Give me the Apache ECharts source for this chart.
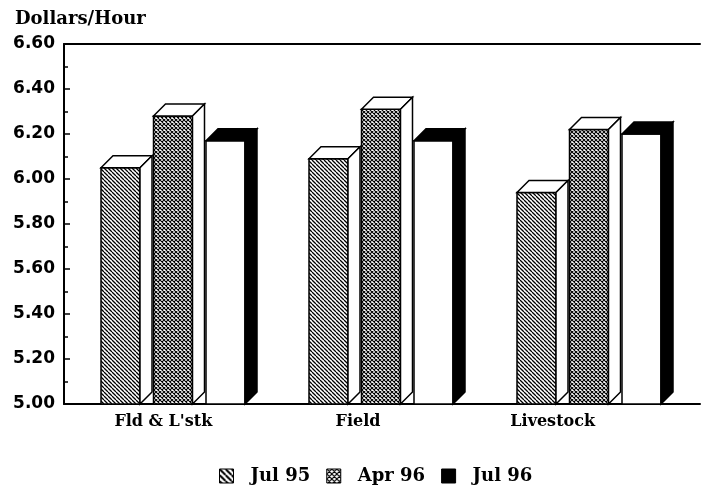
<!DOCTYPE html>
<html>
<head>
<meta charset="utf-8">
<script src="https://cdn.jsdelivr.net/npm/echarts@6/dist/echarts.min.js"></script>
<style>
  html, body { margin: 0; padding: 0; background: #fff; }
  #chart { width: 703px; height: 496px; }
</style>
</head>
<body>
<div id="chart"></div>
<script>
  var categories = ["Fld & L'stk", 'Field', 'Livestock'];
  var seriesNames = ['Jul 95', 'Apr 96', 'Jul 96'];
  var jul95 = [6.05, 6.09, 5.94];
  var apr96 = [6.28, 6.31, 6.22];
  var jul96 = [6.17, 6.17, 6.20];
  var yMin = 5.0, yMax = 6.6, yStep = 0.2;

  // hatch fills, drawn on small tiles
  function hatch(size, thick, back, fwd) {
    var c = document.createElement('canvas');
    c.width = c.height = size;
    var g = c.getContext('2d');
    g.fillStyle = '#fff';
    g.fillRect(0, 0, size, size);
    g.strokeStyle = '#000';
    g.lineWidth = thick;
    g.beginPath();
    for (var k = -1; k <= 1; k++) {
      if (back) { g.moveTo(0, k * size); g.lineTo(size, size + k * size); }
      if (fwd) { g.moveTo(0, (k + 1) * size); g.lineTo(size, k * size); }
    }
    g.stroke();
    return { image: c, repeat: 'repeat' };
  }

  var fills = [hatch(4, 1.3, true, false), hatch(4, 1.1, true, true), '#fff'];
  var legendFills = [hatch(6, 2, true, false), hatch(5, 1.2, true, true), '#000'];
  var topFills = ['#fff', '#fff', '#000'];
  var sideFills = ['#fff', '#fff', '#000'];
  var offsets = [-67, -14.5, 38];
  var barW = 39, depth = 12;

  function makeRender(si) {
    return function (params, api) {
      var top = api.coord([api.value(0), api.value(1)]);
      var base = api.coord([api.value(0), yMin]);
      var x = top[0] + offsets[si], y = top[1], b = base[1];
      var w = barW, d = depth;
      var line = { stroke: '#000', lineWidth: 1.5 };
      return {
        type: 'group',
        children: [
          { type: 'rect', shape: { x: x, y: y, width: w, height: b - y },
            style: Object.assign({ fill: fills[si] }, line) },
          { type: 'polygon', shape: { points: [[x, y], [x + d, y - d], [x + w + d, y - d], [x + w, y]] },
            style: Object.assign({ fill: topFills[si] }, line) },
          { type: 'polygon', shape: { points: [[x + w, y], [x + w + d, y - d], [x + w + d, b - d], [x + w, b]] },
            style: Object.assign({ fill: sideFills[si] }, line) }
        ]
      };
    };
  }

  var values = [jul95, apr96, jul96];
  var series = values.map(function (vals, si) {
    return {
      name: seriesNames[si],
      type: 'custom',
      xAxisIndex: 0,
      yAxisIndex: 0,
      clip: false,
      renderItem: makeRender(si),
      itemStyle: { color: legendFills[si], borderColor: '#000', borderWidth: 1 },
      encode: { x: 0, y: 1 },
      data: vals.map(function (v, i) { return [i, v]; })
    };
  });

  var chart = echarts.init(document.getElementById('chart'));
  chart.setOption({
    backgroundColor: '#fff',
    animation: false,
    title: {
      text: 'Dollars/Hour',
      left: 10,
      top: 5,
      textStyle: { fontFamily: 'DejaVu Serif', fontWeight: 'bold', fontSize: 18, color: '#000' }
    },
    legend: {
      left: 219,
      top: 467,
      padding: 0,
      icon: 'rect',
      itemWidth: 14,
      itemHeight: 14,
      itemGap: 16,
      textStyle: { fontFamily: 'DejaVu Serif', fontWeight: 'bold', fontSize: 18, color: '#000', padding: [0, 0, 0, 12] },
      data: seriesNames.map(function (n, i) {
        return { name: n, itemStyle: { color: legendFills[i], borderColor: '#000', borderWidth: 1 } };
      })
    },
    grid: [
      { left: 64, top: 44, width: 624, height: 360 },
      { left: 66, top: 44, width: 584, height: 360 },
      { left: 64, top: 44, width: 636, height: 360 }
    ],
    xAxis: [
      { type: 'category', gridIndex: 0, data: categories, show: false },
      {
        type: 'category', gridIndex: 1, data: categories,
        axisLine: { show: false }, axisTick: { show: false },
        axisLabel: { margin: 10, fontFamily: 'DejaVu Serif', fontWeight: 'bold', fontSize: 16, color: '#000' }
      },
      {
        type: 'value', gridIndex: 2, position: 'bottom', min: 0, max: 1,
        axisLine: { show: true, lineStyle: { color: '#000', width: 2 } },
        axisTick: { show: false }, axisLabel: { show: false }, splitLine: { show: false }
      },
      {
        type: 'value', gridIndex: 2, position: 'top', min: 0, max: 1,
        axisLine: { show: true, lineStyle: { color: '#000', width: 2 } },
        axisTick: { show: false }, axisLabel: { show: false }, splitLine: { show: false }
      }
    ],
    yAxis: [
      {
        type: 'value', gridIndex: 0, min: yMin, max: yMax, interval: yStep,
        axisLine: { show: true, lineStyle: { color: '#000', width: 2 } },
        axisTick: { show: true, inside: true, length: 6, lineStyle: { color: '#000', width: 1.5 } },
        minorTick: { show: true, splitNumber: 2, length: 4, lineStyle: { color: '#000', width: 1.5 } },
        splitLine: { show: false },
        axisLabel: {
          margin: 9, fontFamily: 'DejaVu Sans', fontWeight: 'bold', fontSize: 17, color: '#000',
          formatter: function (v) { return v.toFixed(2); }
        }
      },
      { type: 'value', gridIndex: 1, show: false },
      { type: 'value', gridIndex: 2, show: false }
    ],
    series: series
  });
</script>
</body>
</html>
